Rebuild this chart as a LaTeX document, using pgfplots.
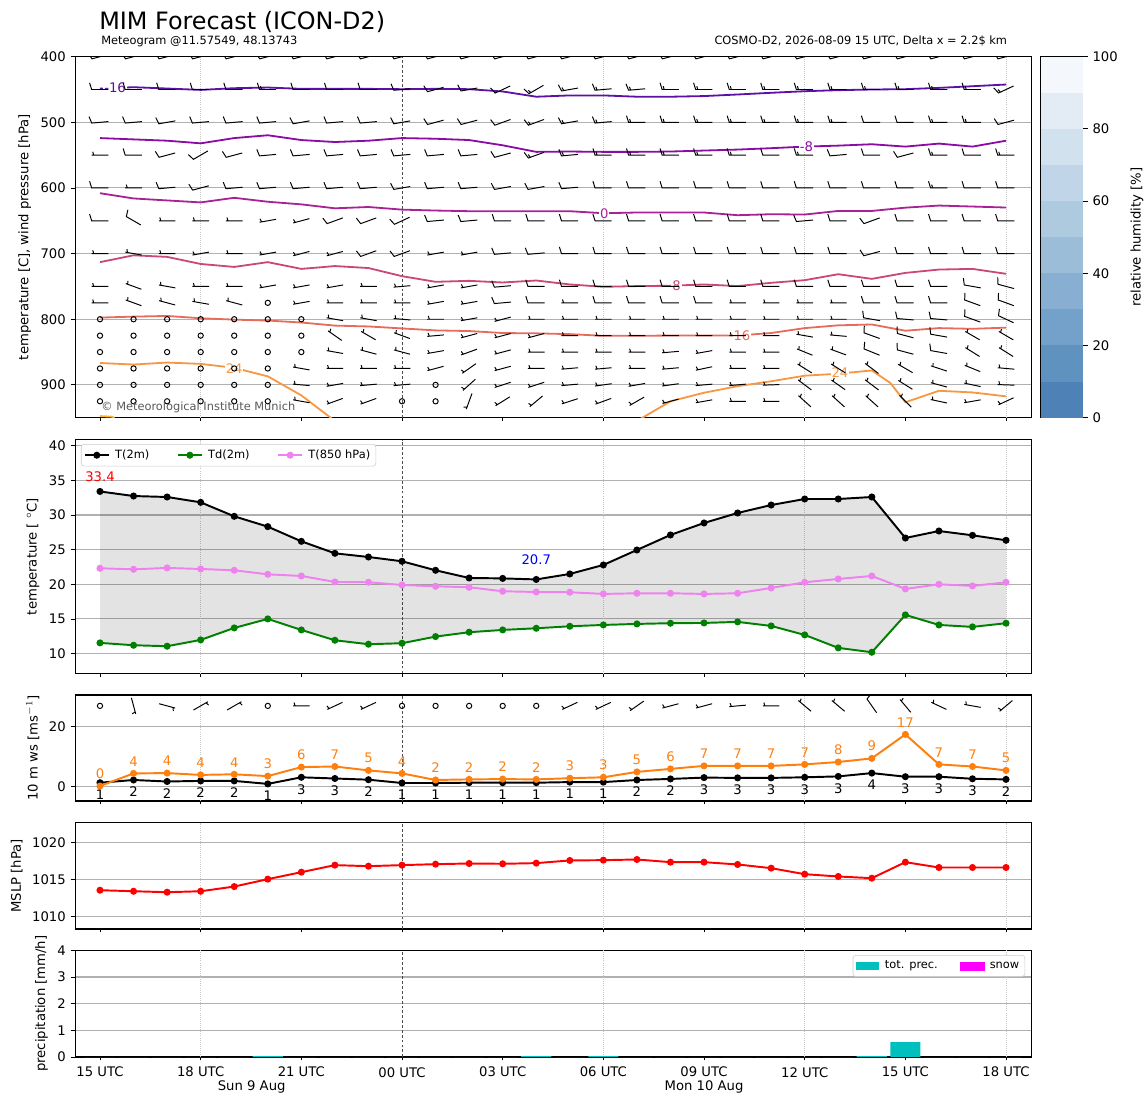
\documentclass[border=0pt]{standalone}
\usepackage{fontspec}
\setmainfont{DejaVu Sans}
\usepackage{pgfplots}
\usepackage{pgfplotstable}
\pgfplotsset{compat=1.18}

\definecolor{cmsixteen}{HTML}{5C10A8}
\definecolor{cmeight}{HTML}{8A0BA5}
\definecolor{czero}{HTML}{A82296}
\definecolor{ceight}{HTML}{CB4679}
\definecolor{csixteen}{HTML}{E56B5D}
\definecolor{ctwentyfour}{HTML}{F99641}
\definecolor{cthirtytwo}{HTML}{FDB72F}
\definecolor{gridgray}{HTML}{B0B0B0}
\definecolor{gust}{HTML}{FF7F0E}
\definecolor{precc}{HTML}{00BFBF}
\definecolor{snowc}{HTML}{FF00FF}
\definecolor{violetc}{HTML}{EE82EE}
\definecolor{greenc}{HTML}{008000}
\definecolor{redc}{HTML}{FF0000}
\definecolor{bluec}{HTML}{0000FF}
\definecolor{rha}{HTML}{4E81B5}
\definecolor{rhb}{HTML}{6092C0}
\definecolor{rhc}{HTML}{74A1C9}
\definecolor{rhd}{HTML}{88AFD1}
\definecolor{rhe}{HTML}{9BBDD8}
\definecolor{rhf}{HTML}{AECADF}
\definecolor{rhg}{HTML}{C0D5E8}
\definecolor{rhh}{HTML}{D2E1EE}
\definecolor{rhi}{HTML}{E3EBF4}
\definecolor{rhj}{HTML}{F4F8FC}

\newcommand{\tfont}{\fontsize{9.5}{11}\selectfont}
\newcommand{\sfont}{\fontsize{8.2}{9.8}\selectfont}

\def\barbT{0}\def\barbA{0}
\pgfdeclareplotmark{barb}{%
  \pgfscope
  \pgftransformrotate{\barbA}%
  \ifdim\barbT pt<0.5pt
    \pgfpathcircle{\pgfpointorigin}{1.9pt}%
  \else\ifdim\barbT pt<1.5pt
    \pgfpathmoveto{\pgfqpoint{-6pt}{0pt}}\pgfpathlineto{\pgfqpoint{6pt}{0pt}}%
    \pgfpathmoveto{\pgfqpoint{4.5pt}{0pt}}\pgfpathlineto{\pgfqpoint{5.25pt}{-2.4pt}}%
  \else\ifdim\barbT pt<2.5pt
    \pgfpathmoveto{\pgfqpoint{-6pt}{0pt}}\pgfpathlineto{\pgfqpoint{6pt}{0pt}}%
    \pgfpathlineto{\pgfqpoint{7.5pt}{-4.8pt}}%
  \else
    \pgfpathmoveto{\pgfqpoint{-6pt}{0pt}}\pgfpathlineto{\pgfqpoint{6pt}{0pt}}%
    \pgfpathlineto{\pgfqpoint{7.5pt}{-4.8pt}}%
    \pgfpathmoveto{\pgfqpoint{4.5pt}{0pt}}\pgfpathlineto{\pgfqpoint{5.25pt}{-2.4pt}}%
  \fi\fi\fi
  \pgfusepathqstroke
  \endpgfscope}

\pgfplotstableread{
h t2 td t850 ws wsl gust gul mslp prec
0 33.40 11.54 22.31 1.2 1 0.1 0 1013.56 0
1 32.74 11.20 22.16 2.1 2 4.3 4 1013.42 0
2 32.60 11.06 22.36 1.6 2 4.4 4 1013.29 0
3 31.83 11.97 22.21 1.8 2 3.8 4 1013.42 0
4 29.81 13.70 22.02 1.8 2 4.0 4 1014.05 0
5 28.32 15.00 21.44 0.8 1 3.4 3 1015.05 0.03
6 26.20 13.41 21.20 3.0 3 6.4 6 1015.99 0
7 24.47 11.92 20.34 2.6 3 6.6 7 1016.94 0
8 23.94 11.35 20.29 2.2 2 5.3 5 1016.80 0
9 23.32 11.49 19.90 1.1 1 4.3 4 1016.94 0
10 22.02 12.45 19.71 1.1 1 2.1 2 1017.07 0
11 20.91 13.08 19.57 1.2 1 2.3 2 1017.16 0
12 20.85 13.41 18.99 1.2 1 2.4 2 1017.12 0
13 20.70 13.65 18.89 1.2 1 2.3 2 1017.21 0.03
14 21.49 13.94 18.85 1.4 1 2.7 3 1017.57 0
15 22.79 14.13 18.61 1.4 1 3.0 3 1017.61 0.03
16 24.95 14.28 18.70 2.1 2 4.8 5 1017.70 0
17 27.12 14.38 18.70 2.45 2 5.8 6 1017.34 0
18 28.85 14.42 18.61 2.9 3 6.8 7 1017.34 0
19 30.29 14.57 18.70 2.8 3 6.8 7 1017.03 0
20 31.44 13.99 19.47 2.8 3 6.8 7 1016.53 0
21 32.31 12.69 20.29 3.0 3 7.3 7 1015.72 0
22 32.31 10.82 20.77 3.3 3 8.1 8 1015.41 0
23 32.60 10.19 21.20 4.4 4 9.3 9 1015.18 0.03
24 26.68 15.58 19.33 3.2 3 17.3 17 1017.34 0.56
25 27.69 14.13 20.00 3.2 3 7.3 7 1016.62 0
26 27.07 13.85 19.76 2.5 3 6.6 7 1016.62 0
27 26.35 14.38 20.29 2.3 2 5.3 5 1016.62 0
}\met

\pgfplotstableread[row sep=\\]{
h p t a\\
0 400 2 195\\ 1 400 2 195\\ 2 400 2 195\\ 3 400 2 195\\ 4 400 2 195\\ 5 400 2 195\\ 6 400 2 195\\ 7 400 2 195\\ 8 400 2 195\\ 9 400 2 195\\ 10 400 2 195\\ 11 400 2 195\\ 12 400 2 195\\ 13 400 2 195\\ 14 400 2 195\\ 15 400 2 195\\ 16 400 2 195\\ 17 400 2 195\\ 18 400 2 195\\ 19 400 2 195\\ 20 400 2 195\\ 21 400 2 195\\ 22 400 2 195\\ 23 400 2 195\\ 24 400 2 195\\ 25 400 2 195\\ 26 400 2 195\\ 27 400 2 195\\
0 450 2 180\\ 1 450 2 180\\ 2 450 2 180\\ 3 450 2 180\\ 4 450 2 180\\ 5 450 3 180\\ 6 450 2 180\\ 7 450 2 180\\ 8 450 2 180\\ 9 450 2 185\\ 10 450 2 195\\ 11 450 2 190\\ 12 450 2 205\\ 13 450 3 210\\ 14 450 3 190\\ 15 450 3 185\\ 16 450 3 185\\ 17 450 3 180\\ 18 450 3 180\\ 19 450 3 180\\ 20 450 3 180\\ 21 450 3 180\\ 22 450 3 180\\ 23 450 3 180\\ 24 450 3 180\\ 25 450 3 180\\ 26 450 3 180\\ 27 450 3 205\\
0 500 2 185\\ 1 500 2 185\\ 2 500 2 190\\ 3 500 2 185\\ 4 500 2 185\\ 5 500 2 185\\ 6 500 2 190\\ 7 500 2 185\\ 8 500 2 185\\ 9 500 2 190\\ 10 500 2 195\\ 11 500 2 195\\ 12 500 2 200\\ 13 500 3 200\\ 14 500 3 190\\ 15 500 3 185\\ 16 500 3 180\\ 17 500 3 180\\ 18 500 3 180\\ 19 500 3 180\\ 20 500 3 180\\ 21 500 3 180\\ 22 500 3 180\\ 23 500 2 180\\ 24 500 2 180\\ 25 500 3 180\\ 26 500 3 180\\ 27 500 2 195\\
0 550 1 180\\ 1 550 2 180\\ 2 550 2 195\\ 3 550 2 210\\ 4 550 2 195\\ 5 550 2 185\\ 6 550 2 185\\ 7 550 2 185\\ 8 550 2 185\\ 9 550 2 185\\ 10 550 2 185\\ 11 550 2 185\\ 12 550 2 195\\ 13 550 3 200\\ 14 550 3 185\\ 15 550 3 180\\ 16 550 3 180\\ 17 550 3 180\\ 18 550 3 180\\ 19 550 3 180\\ 20 550 2 180\\ 21 550 3 180\\ 22 550 2 185\\ 23 550 2 180\\ 24 550 2 195\\ 25 550 3 180\\ 26 550 2 180\\ 27 550 3 180\\
0 600 2 180\\ 1 600 1 180\\ 2 600 2 185\\ 3 600 2 195\\ 4 600 2 185\\ 5 600 2 185\\ 6 600 2 185\\ 7 600 2 185\\ 8 600 2 185\\ 9 600 2 190\\ 10 600 2 185\\ 11 600 2 185\\ 12 600 2 190\\ 13 600 2 190\\ 14 600 2 185\\ 15 600 2 180\\ 16 600 2 180\\ 17 600 2 180\\ 18 600 2 180\\ 19 600 2 180\\ 20 600 2 180\\ 21 600 2 180\\ 22 600 2 180\\ 23 600 2 180\\ 24 600 2 180\\ 25 600 3 180\\ 26 600 2 180\\ 27 600 2 180\\
0 650 2 180\\ 1 650 2 150\\ 2 650 1 180\\ 3 650 1 180\\ 4 650 1 180\\ 5 650 1 190\\ 6 650 1 195\\ 7 650 2 200\\ 8 650 2 200\\ 9 650 2 205\\ 10 650 2 185\\ 11 650 2 185\\ 12 650 2 180\\ 13 650 2 180\\ 14 650 2 180\\ 15 650 2 180\\ 16 650 2 180\\ 17 650 2 180\\ 18 650 2 180\\ 19 650 2 180\\ 20 650 2 180\\ 21 650 2 185\\ 22 650 2 180\\ 23 650 2 200\\ 24 650 2 180\\ 25 650 2 180\\ 26 650 2 180\\ 27 650 2 180\\
0 700 1 180\\ 1 700 1 170\\ 2 700 1 180\\ 3 700 1 190\\ 4 700 1 180\\ 5 700 1 190\\ 6 700 1 195\\ 7 700 1 195\\ 8 700 2 200\\ 9 700 2 200\\ 10 700 1 190\\ 11 700 1 190\\ 12 700 2 185\\ 13 700 2 185\\ 14 700 2 180\\ 15 700 2 180\\ 16 700 2 180\\ 17 700 2 180\\ 18 700 2 180\\ 19 700 2 180\\ 20 700 2 180\\ 21 700 2 180\\ 22 700 2 180\\ 23 700 2 195\\ 24 700 2 180\\ 25 700 2 180\\ 26 700 2 180\\ 27 700 2 180\\
0 750 1 180\\ 1 750 1 160\\ 2 750 1 170\\ 3 750 1 180\\ 4 750 1 180\\ 5 750 1 190\\ 6 750 1 190\\ 7 750 1 190\\ 8 750 1 180\\ 9 750 1 185\\ 10 750 1 190\\ 11 750 1 190\\ 12 750 2 185\\ 13 750 2 180\\ 14 750 2 180\\ 15 750 2 180\\ 16 750 2 180\\ 17 750 2 180\\ 18 750 2 180\\ 19 750 2 180\\ 20 750 2 180\\ 21 750 2 180\\ 22 750 2 180\\ 23 750 2 180\\ 24 750 2 180\\ 25 750 2 180\\ 26 750 2 170\\ 27 750 2 165\\
0 775 1 180\\ 1 775 1 160\\ 2 775 1 165\\ 3 775 1 170\\ 4 775 1 165\\ 5 775 0 0\\ 6 775 1 190\\ 7 775 1 180\\ 8 775 1 180\\ 9 775 1 180\\ 10 775 1 190\\ 11 775 1 190\\ 12 775 2 185\\ 13 775 2 180\\ 14 775 1 180\\ 15 775 2 180\\ 16 775 2 180\\ 17 775 2 180\\ 18 775 2 180\\ 19 775 1 180\\ 20 775 1 180\\ 21 775 1 180\\ 22 775 1 180\\ 23 775 2 180\\ 24 775 2 180\\ 25 775 2 180\\ 26 775 2 160\\ 27 775 2 160\\
0 800 0 0\\ 1 800 0 0\\ 2 800 0 0\\ 3 800 0 0\\ 4 800 0 0\\ 5 800 0 0\\ 6 800 0 0\\ 7 800 1 170\\ 8 800 1 170\\ 9 800 1 175\\ 10 800 1 180\\ 11 800 1 190\\ 12 800 1 195\\ 13 800 1 180\\ 14 800 1 180\\ 15 800 1 180\\ 16 800 1 180\\ 17 800 1 180\\ 18 800 1 180\\ 19 800 1 180\\ 20 800 1 180\\ 21 800 1 180\\ 22 800 1 180\\ 23 800 2 170\\ 24 800 2 175\\ 25 800 2 175\\ 26 800 2 160\\ 27 800 2 155\\
0 825 0 0\\ 1 825 0 0\\ 2 825 0 0\\ 3 825 0 0\\ 4 825 0 0\\ 5 825 0 0\\ 6 825 0 0\\ 7 825 1 145\\ 8 825 1 150\\ 9 825 1 160\\ 10 825 1 185\\ 11 825 1 195\\ 12 825 1 195\\ 13 825 1 195\\ 14 825 1 180\\ 15 825 1 180\\ 16 825 1 180\\ 17 825 1 180\\ 18 825 1 180\\ 19 825 1 180\\ 20 825 1 180\\ 21 825 1 170\\ 22 825 1 175\\ 23 825 2 160\\ 24 825 2 165\\ 25 825 2 170\\ 26 825 1 150\\ 27 825 1 150\\
0 850 0 0\\ 1 850 0 0\\ 2 850 0 0\\ 3 850 0 0\\ 4 850 0 0\\ 5 850 0 0\\ 6 850 0 0\\ 7 850 1 170\\ 8 850 1 165\\ 9 850 1 165\\ 10 850 1 190\\ 11 850 1 200\\ 12 850 1 195\\ 13 850 1 180\\ 14 850 1 180\\ 15 850 1 180\\ 16 850 1 180\\ 17 850 1 185\\ 18 850 1 190\\ 19 850 1 180\\ 20 850 1 180\\ 21 850 1 158\\ 22 850 1 160\\ 23 850 2 158\\ 24 850 2 165\\ 25 850 2 170\\ 26 850 1 148\\ 27 850 1 148\\
0 875 0 0\\ 1 875 0 0\\ 2 875 0 0\\ 3 875 0 0\\ 4 875 0 0\\ 5 875 0 0\\ 6 875 1 170\\ 7 875 1 180\\ 8 875 1 180\\ 9 875 1 180\\ 10 875 1 195\\ 11 875 1 215\\ 12 875 1 195\\ 13 875 1 180\\ 14 875 1 185\\ 15 875 1 185\\ 16 875 1 180\\ 17 875 1 185\\ 18 875 1 192\\ 19 875 1 180\\ 20 875 1 180\\ 21 875 1 148\\ 22 875 1 148\\ 23 875 1 143\\ 24 875 1 150\\ 25 875 1 162\\ 26 875 1 158\\ 27 875 1 175\\
0 900 0 0\\ 1 900 0 0\\ 2 900 0 0\\ 3 900 0 0\\ 4 900 0 0\\ 5 900 0 0\\ 6 900 1 175\\ 7 900 1 190\\ 8 900 1 185\\ 9 900 1 185\\ 10 900 0 0\\ 11 900 1 222\\ 12 900 1 198\\ 13 900 1 198\\ 14 900 1 185\\ 15 900 1 188\\ 16 900 1 190\\ 17 900 1 188\\ 18 900 1 185\\ 19 900 1 185\\ 20 900 1 182\\ 21 900 1 143\\ 22 900 1 145\\ 23 900 1 143\\ 24 900 1 148\\ 25 900 1 165\\ 26 900 1 168\\ 27 900 1 178\\
0 925 0 0\\ 1 925 0 0\\ 2 925 0 0\\ 3 925 0 0\\ 4 925 0 0\\ 5 925 0 0\\ 6 925 1 170\\ 7 925 1 200\\ 8 925 1 200\\ 9 925 0 0\\ 10 925 0 0\\ 11 925 1 250\\ 12 925 1 212\\ 13 925 1 220\\ 14 925 1 198\\ 15 925 1 200\\ 16 925 1 210\\ 17 925 1 195\\ 18 925 1 190\\ 19 925 1 180\\ 20 925 1 180\\ 21 925 1 138\\ 22 925 1 138\\ 23 925 1 138\\ 24 925 1 135\\ 25 925 1 168\\ 26 925 1 190\\ 27 925 1 205\\
}\barbsup

\pgfplotstableread[row sep=\\]{
h p t a\\
0 26.8 0 0\\ 1 26.8 1 285\\ 2 26.8 1 345\\ 3 26.8 1 30\\ 4 26.8 1 30\\ 5 26.8 0 0\\ 6 26.8 1 180\\ 7 26.8 1 205\\ 8 26.8 1 205\\ 9 26.8 0 0\\ 10 26.8 0 0\\ 11 26.8 0 0\\ 12 26.8 0 0\\ 13 26.8 0 0\\ 14 26.8 1 205\\ 15 26.8 1 205\\ 16 26.8 1 215\\ 17 26.8 1 195\\ 18 26.8 1 195\\ 19 26.8 1 185\\ 20 26.8 1 180\\ 21 26.8 1 140\\ 22 26.8 1 140\\ 23 26.8 2 125\\ 24 26.8 1 130\\ 25 26.8 1 155\\ 26 26.8 1 170\\ 27 26.8 1 220\\
}\barbsfc

\pgfplotsset{
  mg/.style={
    scale only axis, width=688.25pt,
    xmin=-0.733, xmax=27.753,
    axis line style={line width=0.75pt},
    tick pos=left, tick align=outside,
    every tick/.style={black, line width=0.6pt},
    major tick length=3.4pt,
    xtick={0,3,6,12,15,18,24,27},
    xticklabels={},
    xtick style={/pgfplots/major tick length=2.4pt},
    extra x ticks={9,21}, extra x tick labels={},
    extra x tick style={grid=none, /pgfplots/major tick length=3.8pt,
      tick label style={yshift=-0.6pt}},
    ymajorgrids, grid style={gridgray, line width=0.75pt},
    tick label style={font=\tfont},
    label style={font=\tfont},
    /pgf/number format/assume math mode=true,
    /pgf/number format/1000 sep={},
    scaled y ticks=false,
  },
  barbplot/.style={scatter, only marks, mark=barb,
    mark options={line width=0.7pt, draw=black, solid},
    scatter/use mapped color={draw=black, fill=black},
    visualization depends on={\thisrow{t} \as \barbT},
    visualization depends on={\thisrow{a} \as \barbA}},
  mline/.style={line width=1.4pt, mark=*, mark size=1.8pt, mark options={solid}},
}

\newcommand{\vgrid}{%
 \draw[black!22, densely dotted, line width=0.5pt] (rel axis cs:0.13105,0) -- (rel axis cs:0.13105,1);
 \draw[black!22, densely dotted, line width=0.5pt] (rel axis cs:0.55231,0) -- (rel axis cs:0.55231,1);
 \draw[black!22, densely dotted, line width=0.5pt] (rel axis cs:0.76294,0) -- (rel axis cs:0.76294,1);
 \draw[black!22, densely dotted, line width=0.5pt] (rel axis cs:0.97357,0) -- (rel axis cs:0.97357,1);
 \draw[black!70, dash pattern=on 2pt off 1.5pt, line width=0.45pt] (rel axis cs:0.34168,0) -- (rel axis cs:0.34168,1);}

\begin{document}
\begin{tikzpicture}
\path[use as bounding box] (0,0) rectangle (826.56pt,795.6pt);

% ---------- panel 1: upper air ----------
\begin{axis}[mg, at={(54.29pt,494.86pt)}, anchor=south west, height=259.92pt,
  clip marker paths=true,
  y dir=reverse, ymin=400, ymax=950, ytick={400,500,...,900},
  ylabel={temperature [C], wind pressure [hPa]}]
\vgrid
\addplot[cmsixteen, line width=1.3pt] coordinates {(0,448.5) (1,446.5) (2,448.5) (3,450.6) (4,448) (5,447) (6,449) (7,449) (8,449) (9,449.5) (10,449) (11,449.5) (12,453) (13,461) (14,459) (15,459) (16,461) (17,461) (18,460) (19,457.6) (20,455) (21,452.6) (22,451) (23,450) (24,449.5) (25,447.5) (26,445) (27,442.4)};
\addplot[cmeight, line width=1.3pt] coordinates {(0,524) (1,526) (2,528) (3,532) (4,524) (5,519.7) (6,527) (7,530) (8,528) (9,524) (10,525) (11,527) (12,535) (13,545) (14,544.5) (15,545) (16,545) (17,544.5) (18,543) (19,541.5) (20,539.4) (21,537) (22,535.5) (23,533.4) (24,537) (25,532.4) (26,537) (27,528)};
\addplot[czero, line width=1.3pt] coordinates {(0,608) (1,616) (2,619) (3,622) (4,615) (5,621) (6,625) (7,631) (8,629) (9,633) (10,634.4) (11,635.4) (12,635.4) (13,635.4) (14,635.4) (15,638.5) (16,637.4) (17,637.4) (18,637.4) (19,641.5) (20,640) (21,640.5) (22,635) (23,635) (24,630) (25,626.8) (26,628.3) (27,629.8)};
\addplot[ceight, line width=1.3pt] coordinates {(0,713) (1,702.6) (2,705) (3,715.8) (4,720.3) (5,713) (6,723.3) (7,719) (8,722) (9,734.4) (10,743) (11,741.5) (12,744) (13,741) (14,747) (15,750.6) (16,749.5) (17,749) (18,747) (19,749.5) (20,744.5) (21,740.5) (22,731.4) (23,738.5) (24,729.4) (25,724.3) (26,723.3) (27,730.8)};
\addplot[csixteen, line width=1.3pt] coordinates {(0,797.5) (1,796) (2,795) (3,798.5) (4,800.6) (5,802) (6,805) (7,809.7) (8,811) (9,814) (10,817) (11,818) (12,821) (13,821.5) (14,822.7) (15,825.3) (16,825.3) (17,824.8) (18,824.8) (19,824.8) (20,821) (21,813.5) (22,809.3) (23,808) (24,817.5) (25,813.5) (26,814.6) (27,812.8)};
\addplot[ctwentyfour, line width=1.3pt] coordinates {(0,866.7) (1,869) (2,866) (3,868) (4,874) (5,887) (6,916) (7,955)};
\addplot[ctwentyfour, line width=1.3pt] coordinates {(16,955) (17,925) (18,912) (19,902) (20,894.5) (21,886) (22,883) (23,878) (23.55,897) (24,926.5) (25,909) (26,911.5) (27,917.5)};
\addplot[cthirtytwo, line width=1.3pt] coordinates {(0,947.5) (0.38,948.5) (0.5,956)};
\node[text=cmsixteen, fill=white, inner sep=0.6pt, font=\tfont] at (axis cs:0.45,448) {-16};
\node[text=cmeight, fill=white, inner sep=0.6pt, font=\tfont] at (axis cs:21.05,537) {-8};
\node[text=czero, fill=white, inner sep=0.6pt, font=\tfont] at (axis cs:15.03,638.5) {0};
\node[text=ceight, fill=white, inner sep=0.6pt, font=\tfont] at (axis cs:17.18,749) {8};
\node[text=csixteen, fill=white, inner sep=0.6pt, font=\tfont] at (axis cs:19.13,825) {16};
\node[text=ctwentyfour, fill=white, inner sep=0.6pt, font=\tfont] at (axis cs:4.0,875) {24};
\node[text=ctwentyfour, fill=white, inner sep=0.6pt, font=\tfont] at (axis cs:22.05,881) {24};
\addplot[barbplot] table[x=h,y=p]{\barbsup};
\end{axis}

% ---------- colorbar ----------
\begin{axis}[scale only axis, at={(749.5pt,494.86pt)}, anchor=south west, width=30.2pt, height=259.92pt,
  xmin=0, xmax=1, ymin=0, ymax=100, xtick=\empty, ytick={0,20,...,100},
  ytick pos=right, yticklabel pos=right, tick align=outside,
  axis line style={line width=0.75pt},
  every tick/.style={black, line width=0.6pt}, major tick length=3.4pt,
  tick label style={font=\tfont}, label style={font=\tfont},
  /pgf/number format/assume math mode=true,
  ylabel={relative humidity [\%]},
  ylabel style={at={(axis description cs:2.02,0.5)}, anchor=north}]
\addplot[fill=rha, draw=none] coordinates {(0,0) (1,0) (1,10) (0,10)} -- cycle;
\addplot[fill=rhb, draw=none] coordinates {(0,10) (1,10) (1,20) (0,20)} -- cycle;
\addplot[fill=rhc, draw=none] coordinates {(0,20) (1,20) (1,30) (0,30)} -- cycle;
\addplot[fill=rhd, draw=none] coordinates {(0,30) (1,30) (1,40) (0,40)} -- cycle;
\addplot[fill=rhe, draw=none] coordinates {(0,40) (1,40) (1,50) (0,50)} -- cycle;
\addplot[fill=rhf, draw=none] coordinates {(0,50) (1,50) (1,60) (0,60)} -- cycle;
\addplot[fill=rhg, draw=none] coordinates {(0,60) (1,60) (1,70) (0,70)} -- cycle;
\addplot[fill=rhh, draw=none] coordinates {(0,70) (1,70) (1,80) (0,80)} -- cycle;
\addplot[fill=rhi, draw=none] coordinates {(0,80) (1,80) (1,90) (0,90)} -- cycle;
\addplot[fill=rhj, draw=none] coordinates {(0,90) (1,90) (1,100) (0,100)} -- cycle;
\end{axis}

% ---------- panel 2: temperature ----------
\begin{axis}[mg, at={(54.29pt,310.82pt)}, anchor=south west, height=168.19pt,
  ymin=7.15, ymax=40.87, ytick={10,15,...,40},
  ylabel={temperature [ $^\circ$C]},
  legend columns=3,
  legend image code/.code={\draw[sharp corners, mark repeat=2,mark phase=2,#1] plot coordinates {(0pt,0pt) (8.5pt,0pt) (17pt,0pt)};},
  legend style={at={(0,1)}, anchor=north west, xshift=4pt, yshift=-3.1pt, font=\sfont,
    draw=black!20, rounded corners=2pt, inner sep=2pt,
    /tikz/every odd column/.append style={column sep=2pt},
    /tikz/every even column/.append style={column sep=18pt}}]
\vgrid
\addplot[fill=black, fill opacity=0.11, draw=none, forget plot] coordinates {
 (0,33.40) (1,32.74) (2,32.60) (3,31.83) (4,29.81) (5,28.32) (6,26.20) (7,24.47) (8,23.94) (9,23.32) (10,22.02) (11,20.91) (12,20.85) (13,20.70) (14,21.49) (15,22.79) (16,24.95) (17,27.12) (18,28.85) (19,30.29) (20,31.44) (21,32.31) (22,32.31) (23,32.60) (24,26.68) (25,27.69) (26,27.07) (27,26.35)
 (27,14.38) (26,13.85) (25,14.13) (24,15.58) (23,10.19) (22,10.82) (21,12.69) (20,13.99) (19,14.57) (18,14.42) (17,14.38) (16,14.28) (15,14.13) (14,13.94) (13,13.65) (12,13.41) (11,13.08) (10,12.45) (9,11.49) (8,11.35) (7,11.92) (6,13.41) (5,15.00) (4,13.70) (3,11.97) (2,11.06) (1,11.20) (0,11.54)} -- cycle;
\addplot[black, mline] table[x=h,y=t2]{\met};
\addlegendentry{T(2m)}
\addplot[greenc, mline] table[x=h,y=td]{\met};
\addlegendentry{Td(2m)}
\addplot[violetc, mline] table[x=h,y=t850]{\met};
\addlegendentry{T(850 hPa)}
\node[text=redc, font=\tfont] at (axis cs:0,35.6) {33.4};
\node[text=bluec, font=\tfont] at (axis cs:13,23.5) {20.7};
\end{axis}

% ---------- panel 3: 10 m wind ----------
\begin{axis}[mg, at={(54.29pt,218.88pt)}, anchor=south west, height=76.32pt,
  clip marker paths=true,
  ymin=-4.9, ymax=30.43, ytick={0,20},
  ylabel={10 m ws [ms$^{-1}$]}]
\vgrid
\addplot[black, mline, point meta=explicit symbolic, nodes near coords,
  every node near coord/.append style={font=\tfont, anchor=north, yshift=-1pt, text=black}]
  table[x=h,y=ws,meta=wsl]{\met};
\addplot[gust, mline, point meta=explicit symbolic, nodes near coords,
  every node near coord/.append style={font=\tfont, anchor=south, yshift=1.2pt, text=gust}]
  table[x=h,y=gust,meta=gul]{\met};
\addplot[barbplot] table[x=h,y=p]{\barbsfc};
\end{axis}

% ---------- panel 4: MSLP ----------
\begin{axis}[mg, at={(54.29pt,126.72pt)}, anchor=south west, height=76.54pt,
  ymin=1008.33, ymax=1022.66, ytick={1010,1015,1020},
  ylabel={MSLP [hPa]}]
\vgrid
\addplot[redc, mline] table[x=h,y=mslp]{\met};
\end{axis}

% ---------- panel 5: precipitation ----------
\begin{axis}[mg, at={(54.29pt,34.56pt)}, anchor=south west, height=76.82pt,
  ymin=0, ymax=4, ytick={0,1,2,3,4},
  ylabel={precipitation [mm/h]},
  xticklabels={15 UTC,18 UTC,21 UTC,03 UTC,06 UTC,09 UTC,15 UTC,18 UTC},
  extra x tick labels={00 UTC,12 UTC},
  legend columns=2,
  legend style={at={(1,1)}, anchor=north east, xshift=-4.5pt, yshift=-3.4pt, font=\sfont,
    draw=black!20, rounded corners=2pt, inner sep=2pt,
    /tikz/every odd column/.append style={column sep=2pt},
    /tikz/every even column/.append style={column sep=14pt}}]
\vgrid
\addplot[ybar, bar width=0.9, fill=precc, draw=none,
  legend image code/.code={\fill[precc, sharp corners] (0pt,-2.8pt) rectangle (17pt,2.8pt);}]
  table[x=h,y=prec]{\met};
\addlegendentry{tot. prec.}
\addlegendimage{legend image code/.code={\fill[snowc, sharp corners] (0pt,-2.8pt) rectangle (17pt,2.8pt);}}
\addlegendentry{snow}
\end{axis}

% ---------- texts ----------
\node[anchor=base west, inner sep=0pt, font=\fontsize{17.2}{20}\selectfont] at (71.3pt,774.6pt) {MIM Forecast (ICON-D2)};
\node[anchor=base west, inner sep=0pt, font=\sfont] at (72.7pt,763.2pt) {Meteogram @11.57549, 48.13743};
\node[anchor=base east, inner sep=0pt, font=\sfont] at (725.3pt,763.2pt) {COSMO-D2, 2026-08-09 15 UTC, Delta x = 2.2\$ km};
\node[anchor=base west, inner sep=0pt, font=\sfont, text=black!65] at (72.7pt,499.7pt) {© Meteorological Institute Munich};
\node[anchor=base, inner sep=0pt, font=\tfont] at (181.2pt,10.1pt) {Sun 9 Aug};
\node[anchor=base, inner sep=0pt, font=\tfont] at (506.9pt,10.1pt) {Mon 10 Aug};
\end{tikzpicture}
\end{document}
